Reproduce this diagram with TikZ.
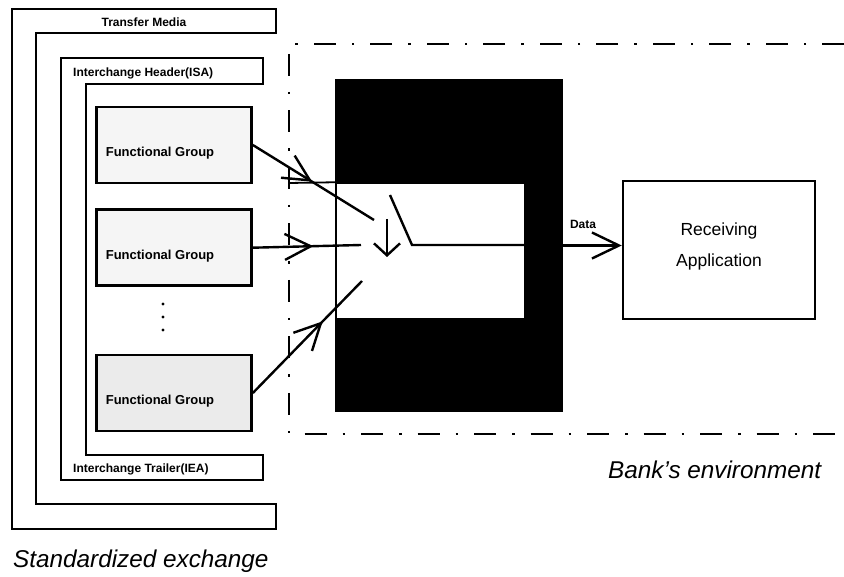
\documentclass[tikz,border=0pt]{standalone}
\usepackage{fontspec}
\setmainfont{Liberation Sans}
\usetikzlibrary{positioning, arrows.meta, decorations.markings}

\begin{document}
\begin{tikzpicture}[x=1pt, y=-1pt, node distance=24pt]
		% Estilos de marcos, grupos y flechas
		\tikzset{
			marco/.style={
					draw, line width=2.7pt, line join=miter
				},
			grupo/.style={
					rectangle, draw, line width=2.7pt, fill=black!4,
					minimum width=155pt, minimum height=76pt, inner sep=0pt
				},
			grupo text/.style={
					font=\bfseries\fontsize{13}{14}\selectfont, inner sep=0pt
				},
			rotulo/.style={
					font=\bfseries\fontsize{12}{13}\selectfont, inner sep=0pt
				},
			titulo/.style={
					font=\itshape\fontsize{24.3}{26}\selectfont, inner sep=0pt
				},
			block/.style={
					rectangle, draw, line width=2.5pt, inner sep=0pt
				},
			line/.style={
					draw, line width=2.4pt
				},
			punta/.style={
					-{Straight Barb[length=27pt, width=26pt]}
				},
			flecha media/.style={
					postaction={decorate},
					decoration={markings, mark=at position #1 with {\arrow{Straight Barb[length=26pt, width=26pt]}}}
				},
			entorno/.style={
					line width=2pt, dash pattern=on 22pt off 16pt on 2.5pt off 16pt
				}
		}
		\useasboundingbox (0,0) rectangle (844,577);

		% Marcos de Transfer Media e Interchange
		\draw[marco] (12,9) -- (276,9) -- (276,33) -- (36,33) -- (36,504) -- (276,504) -- (276,529) -- (12,529) -- cycle;
		\node[rotulo] (medio) at (144,22) {Transfer Media};
		\draw[marco] (61,58) -- (263,58) -- (263,84) -- (86,84) -- (86,455) -- (263,455) -- (263,480) -- (61,480) -- cycle;
		\node[rotulo, anchor=west] (cabecera) at (73,73) {Interchange Header(ISA)};
		\node[rotulo, anchor=west] (cola) at (73,469) {Interchange Trailer(IEA)};

		% Grupos funcionales
		\node[grupo] (fg1) at (174,145) {};
		\node[grupo, below=of fg1] (fg2) {};
		\node[grupo, fill=black!8] (fg3) at (174,393) {};
		\foreach \g in {fg1, fg2, fg3} {
				\node[grupo text] (\g-txt) at ([xshift=-14pt, yshift=-8pt]\g.center) {Functional Group};
			}
		\foreach \y in {304, 317, 330} {
				\fill (163,\y) circle (1.7pt);
			}

		% Entorno del banco
		\draw[entorno] (844,44) -- (289,44) -- (289,434) -- (844,434);
		\node[rectangle, fill=black, minimum width=228pt, minimum height=333pt, inner sep=0pt] (banco) at (449,245.5) {};
		\node[block, fill=white, line width=1.5pt, minimum width=189pt, minimum height=136pt] (ventana) at (430.5,251) {};
		\draw[line width=1.8pt] (289,183) -- (ventana.north west);
		\node[block, minimum width=192pt, minimum height=138pt] (app) at (719,250) {};
		\node[font=\fontsize{17.5}{31}\selectfont, align=center, inner sep=0pt] (app-txt) at ([yshift=4pt]app.center) {Receiving\\Application};

		% Interruptor
		\coordinate (pivote) at (412,245);
		\coordinate (cuchilla) at (390,195);
		\coordinate (baja) at (387,219);
		\coordinate (baja fin) at (387,257);
		\draw[line] (cuchilla) -- (pivote) -- (ventana.east |- pivote);
		\draw[line, -{Straight Barb[length=12pt, width=26pt]}] (baja) -- (baja fin);

		% Entradas de los grupos
		\coordinate (e1) at (374,220);
		\coordinate (e2) at (361,245);
		\coordinate (e3) at (362,281);
		\draw[line, flecha media=0.49] (fg1.east) -- (e1);
		\draw[line, flecha media=0.56] (fg2.east) -- (e2);
		\draw[line, flecha media=0.64] (fg3.east) -- (e3);

		% Salida de datos
		\draw[line, punta] (banco.east) -- (app.west |- banco.east);
		\node[rotulo] (dato) at (583,224) {Data};

		% Titulos
		\node[titulo, anchor=west] (estandar) at (13,561) {Standardized exchange};
		\node[titulo, anchor=west] (entorno banco) at (608,470) {Bank's environment};
	\end{tikzpicture}
\end{document}
